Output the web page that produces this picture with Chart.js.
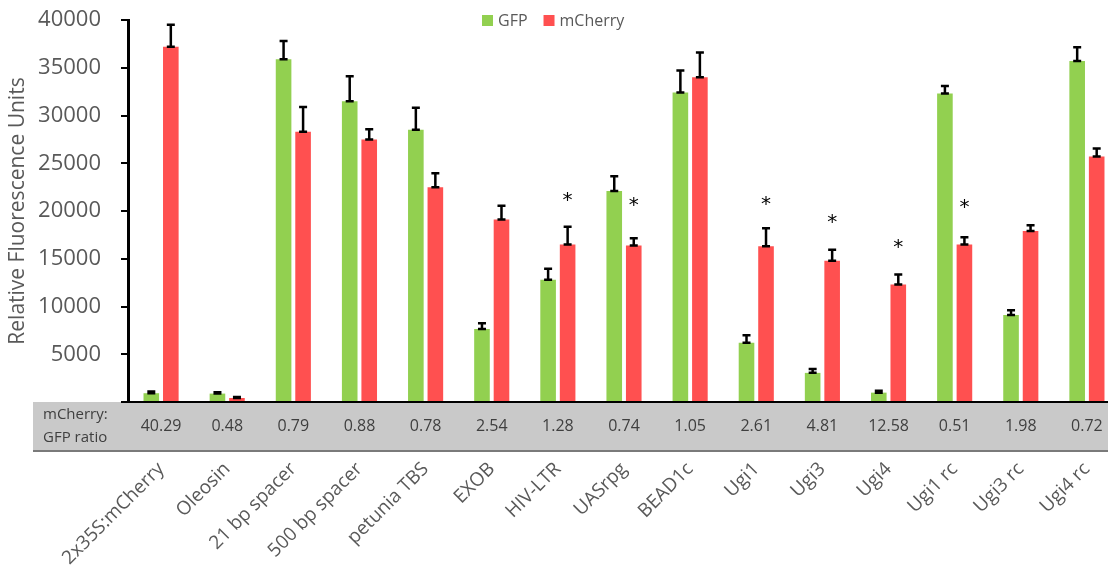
<!DOCTYPE html>
<html>
<head>
<meta charset="utf-8">
<script src="https://cdn.jsdelivr.net/npm/chart.js@4.4.1/dist/chart.umd.min.js"></script>
<style>
  html, body { margin: 0; padding: 0; background: #fff; overflow: hidden; }
</style>
</head>
<body>
<canvas id="chart-fluor-bar" width="1120" height="572"></canvas>
<script>
// values
const categories = ['2x35S:mCherry', 'Oleosin', '21 bp spacer', '500 bp spacer', 'petunia TBS', 'EXOB', 'HIV-LTR',
    'UASrpg', 'BEAD1c', 'Ugi1', 'Ugi3', 'Ugi4', 'Ugi1 rc', 'Ugi3 rc', 'Ugi4 rc'];
const gfpValues = [920, 880, 35900, 31500, 28500, 7650, 12800, 22100, 32400, 6200, 3050, 980, 32300, 9100, 35700];
const gfpErrors = [180, 150, 1900, 2600, 2300, 600, 1150, 1550, 2300, 800, 400, 200, 800, 500, 1450];
const mcherryValues = [37200, 420, 28300, 27500, 22500, 19100, 16500, 16400, 34000, 16300, 14800, 12300, 16500, 17900, 25700];
const mcherryErrors = [2300, 100, 2600, 1050, 1450, 1450, 1850, 750, 2600, 1900, 1150, 1050, 750, 600, 850];
const ratioLabels = ['40.29', '0.48', '0.79', '0.88', '0.78', '2.54', '1.28', '0.74', '1.05', '2.61', '4.81', '12.58', '0.51', '1.98', '0.72'];
// height (in data units) of the significance stars above the mCherry bars
const starValues = [null, null, null, null, null, null, 21500, 21000, null, 21100, 19200, 16600, 20800, null, null];
const yTicks = [0, 5000, 10000, 15000, 20000, 25000, 30000, 35000, 40000];

const GREEN = '#92D050';
const RED = '#FF5050';
const GREY_TEXT = '#595959';

// grey table band with the mCherry:GFP ratios under the x axis
const ratioBand = {
    id: 'ratioBand',
    beforeDraw(chart) {
        const ctx = chart.ctx;
        const area = chart.chartArea;
        const x = chart.scales.x;
        ctx.save();
        ctx.fillStyle = '#C9C9C9';
        ctx.fillRect(33, area.bottom, chart.width - 33, 50);
        ctx.fillStyle = '#7A7A7A';
        ctx.fillRect(33, area.bottom + 48, chart.width - 33, 2);
        ctx.fillStyle = '#3F3F3F';
        ctx.font = '15px "Open Sans"';
        ctx.textAlign = 'left';
        ctx.textBaseline = 'middle';
        ctx.fillText('mCherry:', 43, area.bottom + 13);
        ctx.fillText('GFP ratio', 43, area.bottom + 36);
        ctx.font = '16px "Open Sans"';
        ctx.textAlign = 'center';
        ratioLabels.forEach((r, i) => {
            ctx.fillText(r, x.getPixelForValue(i), area.bottom + 24);
        });
        ctx.restore();
    }
};

// error bars (upper half) and significance stars
const errorBars = {
    id: 'errorBars',
    afterDatasetsDraw(chart) {
        const ctx = chart.ctx;
        const y = chart.scales.y;
        ctx.save();
        ctx.strokeStyle = '#000';
        ctx.lineWidth = 2.5;
        chart.data.datasets.forEach((ds, di) => {
            const meta = chart.getDatasetMeta(di);
            meta.data.forEach((bar, i) => {
                const top = y.getPixelForValue(ds.data[i] + ds.errors[i]);
                const base = bar.y;
                ctx.beginPath();
                ctx.moveTo(bar.x, base);
                ctx.lineTo(bar.x, top);
                ctx.moveTo(bar.x - 4, top);
                ctx.lineTo(bar.x + 4, top);
                ctx.moveTo(bar.x - 4, base);
                ctx.lineTo(bar.x + 4, base);
                ctx.stroke();
            });
        });
        const redMeta = chart.getDatasetMeta(1);
        ctx.fillStyle = '#000';
        ctx.font = '20px "DejaVu Sans"';
        ctx.textAlign = 'center';
        ctx.textBaseline = 'middle';
        starValues.forEach((s, i) => {
            if (s === null) return;
            ctx.fillText('*', redMeta.data[i].x, y.getPixelForValue(s) + 4);
        });
        ctx.restore();
    }
};

// legend drawn above the plot, overlapping its top edge like the original
const topLegend = {
    id: 'topLegend',
    afterDraw(chart) {
        const ctx = chart.ctx;
        ctx.save();
        ctx.font = '16px "Open Sans"';
        ctx.textBaseline = 'middle';
        ctx.textAlign = 'left';
        let x = 482;
        chart.data.datasets.forEach(ds => {
            ctx.fillStyle = ds.backgroundColor;
            ctx.fillRect(x, 15, 11, 11);
            ctx.fillStyle = GREY_TEXT;
            ctx.fillText(ds.label, x + 16, 21);
            x += 16 + ctx.measureText(ds.label).width + 16;
        });
        ctx.restore();
    }
};

const ctx = document.getElementById('chart-fluor-bar').getContext('2d');
new Chart(ctx, {
    type: 'bar',
    data: {
        labels: categories,
        datasets: [{
            label: 'GFP',
            data: gfpValues,
            errors: gfpErrors,
            backgroundColor: GREEN,
            borderWidth: 0,
        }, {
            label: 'mCherry',
            data: mcherryValues,
            errors: mcherryErrors,
            backgroundColor: RED,
            borderWidth: 0,
        }]
    },
    options: {
        responsive: false,
        animation: false,
        barPercentage: 0.8,
        categoryPercentage: 0.59,
        layout: { padding: 0 },
        plugins: {
            legend: { display: false },
            tooltip: { enabled: false },
        },
        scales: {
            x: {
                grid: { display: false, drawTicks: false },
                border: { color: '#000', width: 2 },
                ticks: {
                    color: GREY_TEXT,
                    font: { family: 'Open Sans', size: 19 },
                    maxRotation: 45,
                    minRotation: 45,
                    padding: 56,
                    autoSkip: false,
                },
                afterFit(scale) {
                    scale.height = 170;
                    scale.paddingLeft = 0;
                    scale.paddingRight = 0;
                },
            },
            y: {
                min: 0,
                max: 40000,
                afterBuildTicks(scale) { scale.ticks = yTicks.map(v => ({ value: v })); },
                grid: { drawOnChartArea: false, color: '#000', lineWidth: 2, tickLength: 7 },
                border: { color: '#000', width: 3 },
                ticks: {
                    color: GREY_TEXT,
                    font: { family: 'Open Sans', size: 22 },
                    padding: 20,
                    callback: v => (v === 0 ? '' : String(v)),
                },
                title: {
                    display: true,
                    text: 'Relative Fluorescence Units',
                    color: GREY_TEXT,
                    font: { family: 'Open Sans', size: 21 },
                    padding: { top: 5, bottom: 0 },
                },
                afterFit(scale) {
                    scale.width = 128;
                    scale.paddingTop = 20;
                    scale.paddingBottom = 0;
                },
            }
        }
    },
    plugins: [ratioBand, errorBars, topLegend]
});
</script>
</body>
</html>
